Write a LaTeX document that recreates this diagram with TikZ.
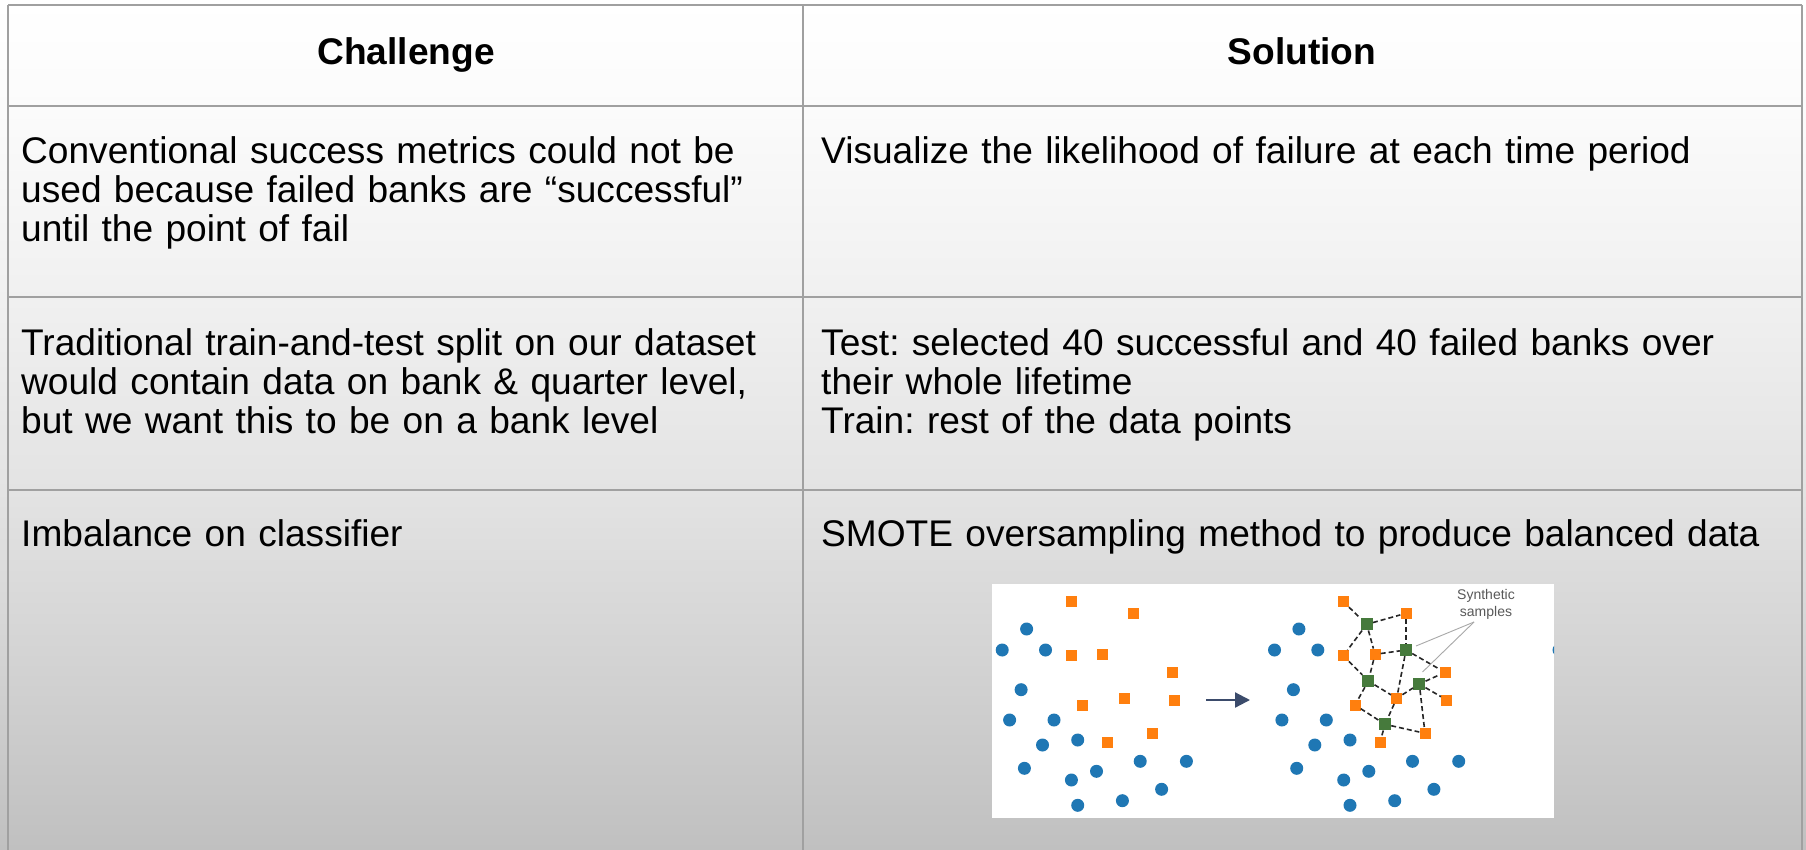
\documentclass[tikz,border=0pt]{standalone}
\usepackage{fontspec}
\setmainfont{Liberation Sans}
\usetikzlibrary{arrows.meta}

\definecolor{gridgray}{HTML}{A0A0A0}
\definecolor{mplblue}{HTML}{1F77B4}
\definecolor{mplorange}{HTML}{FF7F0E}
\definecolor{synthgreen}{HTML}{467A3C}
\definecolor{arrowslate}{HTML}{3B4B6B}
\definecolor{labelgray}{HTML}{595959}
\definecolor{pointergray}{HTML}{A8A8A8}
\definecolor{bgone}{HTML}{FBFBFB}
\definecolor{bgtwo}{HTML}{F0F0F0}
\definecolor{bgthree}{HTML}{E3E3E3}
\definecolor{bgfour}{HTML}{D4D4D4}
\definecolor{bgfive}{HTML}{C0C0C0}

% page background: light at the top, grey towards the bottom
\pgfdeclareverticalshading{tablebg}{100bp}{%
  color(0bp)=(bgfive); color(25bp)=(bgfive); color(36.7bp)=(bgfour);
  color(46.1bp)=(bgthree); color(57.3bp)=(bgtwo); color(68.5bp)=(bgone);
  color(75bp)=(white); color(100bp)=(white)}

\newcommand\tblfont{\fontsize{37.1}{39.4}\selectfont\frenchspacing}
\newcommand\smallnote{\fontsize{14}{17}\selectfont}

\begin{document}
\begin{tikzpicture}[x=1pt,y=-1pt,
  cellline/.style={draw=gridgray,line width=2.4pt},
  celltext/.style={anchor=base west,inner sep=0pt,text width=1100pt,align=left,font=\tblfont},
  headtext/.style={anchor=base,inner sep=0pt,font=\tblfont\bfseries},
  bdot/.style={circle,fill=mplblue,inner sep=0pt,minimum size=13pt},
  osq/.style={rectangle,fill=mplorange,inner sep=0pt,minimum size=11pt},
  gsq/.style={rectangle,fill=synthgreen,inner sep=0pt,minimum size=12pt},
  link/.style={draw=black!85,line width=1.6pt,dash pattern=on 5pt off 3pt},
  pointer/.style={draw=pointergray,line width=0.9pt}]

\useasboundingbox (0,0) rectangle (1806,849);
\shade[shading=tablebg] (0,0) rectangle (1806,849);

% table rules
\draw[cellline] (8,5) -- (1802,5);
\draw[cellline] (8,106) -- (1802,106);
\draw[cellline] (8,297) -- (1802,297);
\draw[cellline] (8,490) -- (1802,490);
\draw[cellline] (8,5) -- (8,860);
\draw[cellline] (803,5) -- (803,860);
\draw[cellline] (1802,5) -- (1802,860);

% header
\node[headtext] (hchal) at (406,64) {Challenge};
\node[headtext] (hsol) at (1302,64) {Solution};

% rows
\node[celltext] (c1) at (21,163) {Conventional success metrics could not be\\used because failed banks are “successful”\\until the point of fail};
\node[celltext] (s1) at (821,163) {Visualize the likelihood of failure at each time period};
\node[celltext] (c2) at (21,355) {Traditional train-and-test split on our dataset\\would contain data on bank \& quarter level,\\but we want this to be on a bank level};
\node[celltext] (s2) at (821,355) {Test: selected 40 successful and 40 failed banks over\\their whole lifetime\\Train: rest of the data points};
\node[celltext] (c3) at (21,546) {Imbalance on classifier};
\node[celltext] (s3) at (821,546) {SMOTE oversampling method to produce balanced data};

% SMOTE illustration
\fill[white] (992,584) rectangle (1554,818);

% majority class (left and right panels)
\foreach \x/\y [count=\i] in {1026.6/629,1002.2/650,1045.5/650,1021.1/689.7,1009.6/720,
    1054/720,1042.5/745,1077.7/740,1024.4/768.3,1071.4/780,1096.5/771.3,
    1140.2/761.3,1186.4/761.3,1161.6/789.3,1077.7/805.3,1122.4/800.7}{
  \node[bdot] (lb\i) at (\x,\y) {};
  \node[bdot] (rb\i) at (\x+272.3,\y) {};
}
\begin{scope}
  \clip (992,584) rectangle (1554,818);
  \node[bdot] (rbedge) at (1559,650) {};
\end{scope}

% minority class, before
\foreach \x/\y [count=\i] in {1071/601.7,1133.7/613.3,1071/655.7,1102.7/654.3,1172.7/672.3,
    1124.4/698.3,1174.4/700,1082.7/705,1152.7/733.3,1107.7/742.3}{
  \node[osq] (lo\i) at (\x,\y) {};
}

% arrow between panels
\coordinate (arrowtail) at (1206,700);
\coordinate (arrowtip) at (1250,700);
\draw[line width=2.2pt,arrowslate,-{Triangle[length=15pt,width=15pt]}] (arrowtail) -- (arrowtip);

% minority class, after
\node[osq] (o1) at (1343.3,601.7) {};
\node[osq] (o2) at (1406,613.3) {};
\node[osq] (o3) at (1343.3,655.7) {};
\node[osq] (o4) at (1375,654.3) {};
\node[osq] (o5) at (1445,672.3) {};
\node[osq] (o6) at (1396.7,698.3) {};
\node[osq] (o7) at (1446.7,700) {};
\node[osq] (o8) at (1355,705) {};
\node[osq] (o9) at (1425,733.3) {};
\node[osq] (o10) at (1380,742.3) {};

% synthetic samples
\node[gsq] (g1) at (1366.7,624.3) {};
\node[gsq] (g2) at (1406,650) {};
\node[gsq] (g3) at (1368.3,681) {};
\node[gsq] (g4) at (1419.3,684) {};
\node[gsq] (g5) at (1385,724.3) {};

\foreach \a/\b in {o1/g1,g1/o2,o2/g2,g1/o3,g1/o4,o4/g2,g2/o5,g2/o6,o3/g3,o4/g3,
    g3/o6,g3/o8,o6/g4,g4/o5,g4/o7,g4/o9,o6/g5,o8/g5,g5/o10,g5/o9}{
  \draw[link] (\a) -- (\b);
}

% label with pointers
\node[align=center,inner sep=0pt,font=\smallnote,text=labelgray] (synlabel) at (1486,604) {Synthetic\\samples};
\coordinate (ptrroot) at (1474,622);
\coordinate (ptrone) at (1416,646);
\coordinate (ptrtwo) at (1422.5,672);
\draw[pointer] (ptrroot) -- (ptrone);
\draw[pointer] (ptrroot) -- (ptrtwo);

\end{tikzpicture}
\end{document}
